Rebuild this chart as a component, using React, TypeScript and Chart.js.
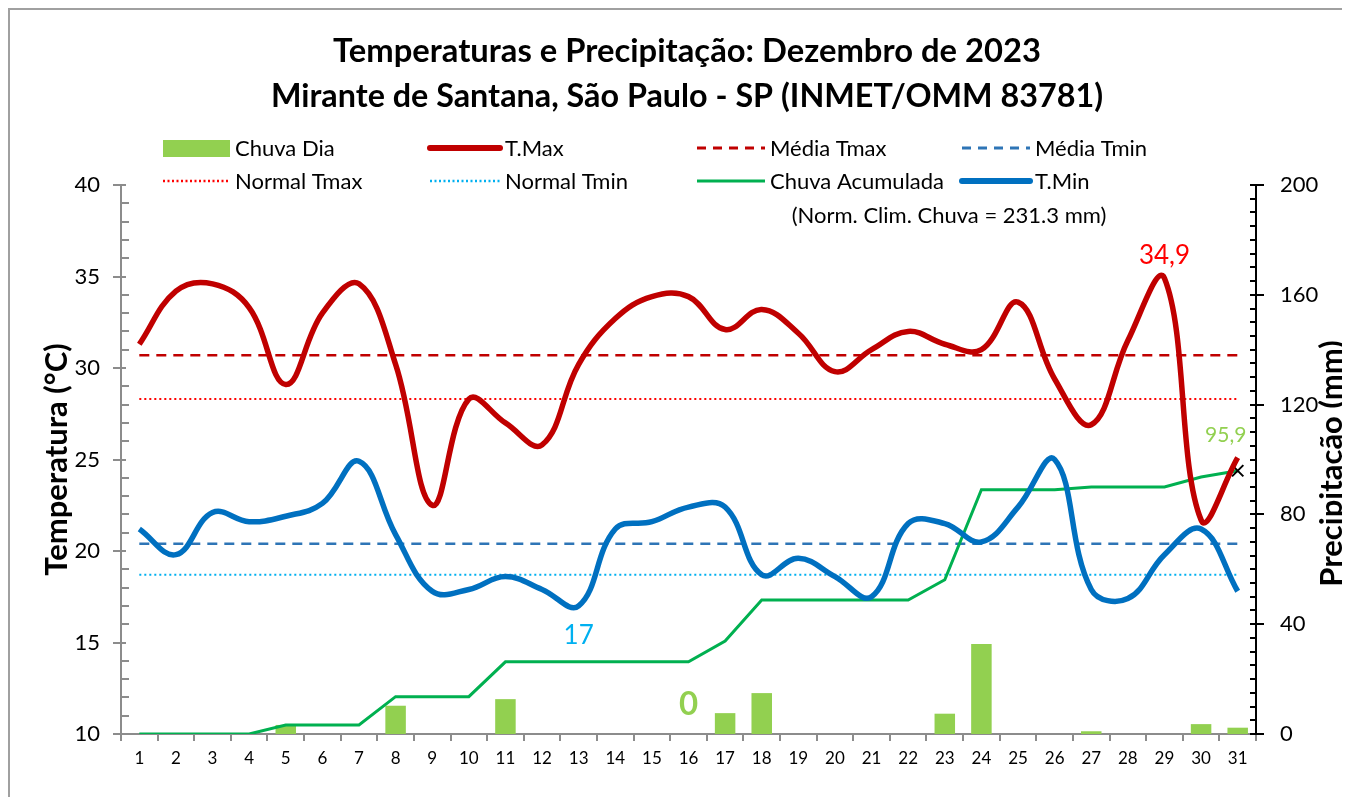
import { useEffect, useRef } from "react";
import { Chart, registerables } from "chart.js";

Chart.register(...registerables);

const DAYS = ["1","2","3","4","5","6","7","8","9","10","11","12","13","14","15","16","17","18","19","20","21","22","23","24","25","26","27","28","29","30","31"];
const T_MAX = [31.3, 34.2, 34.6, 33.3, 29.1, 33.0, 34.6, 30.2, 22.5, 28.3, 27.0, 25.8, 30.2, 32.7, 33.9, 33.9, 32.1, 33.2, 31.9, 29.8, 31.0, 32.0, 31.3, 31.0, 33.6, 29.4, 26.9, 31.5, 34.9, 21.7, 25.1];
const T_MIN = [21.2, 19.8, 22.1, 21.6, 21.9, 22.6, 24.9, 20.9, 17.8, 17.9, 18.6, 17.9, 17.0, 21.2, 21.6, 22.4, 22.4, 18.7, 19.6, 18.6, 17.5, 21.5, 21.5, 20.5, 22.4, 25.0, 17.9, 17.4, 19.8, 21.2, 17.8];
const RAIN_DAY = [0, 0, 0, 0, 3.3, 0, 0, 10.3, 0, 0, 12.7, 0, 0, 0, 0, 0, 7.6, 14.9, 0, 0, 0, 0, 7.4, 32.8, 0, 0, 1.0, 0, 0, 3.6, 2.3];
const RAIN_ACC = [0, 0, 0, 0, 3.3, 3.3, 3.3, 13.6, 13.6, 13.6, 26.3, 26.3, 26.3, 26.3, 26.3, 26.3, 33.9, 48.8, 48.8, 48.8, 48.8, 48.8, 56.2, 89.0, 89.0, 89.0, 90.0, 90.0, 90.0, 93.6, 95.9];
const MEDIA_TMAX = 30.7;
const MEDIA_TMIN = 20.4;
const NORMAL_TMAX = 28.3;
const NORMAL_TMIN = 18.7;
const NORM_CLIM_CHUVA = "231.3";
const TEMP_TICKS = [10, 15, 20, 25, 30, 35, 40];
const RAIN_TICKS = [0, 40, 80, 120, 160, 200];

const TITLE_1 = "Temperaturas e Precipitação: Dezembro de 2023";
const TITLE_2 = "Mirante de Santana, São Paulo - SP (INMET/OMM 83781)";

const FONT = "Lato, 'Open Sans', sans-serif";
const C_TMAX = "#C00000";
const C_TMIN = "#0070C0";
const C_RAIN = "#92D050";
const C_ACC = "#00B050";
const C_NTMAX = "#FF0000";
const C_NTMIN = "#00B0F0";
const C_MTMIN = "#2E75B6";

const refLine = (label: string, value: number, color: string, dash: number[], width: number, order: number) => ({
  type: "line" as const,
  label,
  data: [{ x: DAYS[0], y: value }, { x: DAYS[DAYS.length - 1], y: value }],
  borderColor: color,
  borderWidth: width,
  borderDash: dash,
  pointRadius: 0,
  tension: 0,
  yAxisID: "y",
  order,
});

const decor = {
  id: "decor",
  afterDraw(chart: any) {
    const { ctx, scales } = chart;
    const x = scales.x, y = scales.y, y2 = scales.y2;
    ctx.save();

    // Titles
    ctx.fillStyle = "#000";
    ctx.textAlign = "center";
    ctx.textBaseline = "middle";
    ctx.font = `bold 33px ${FONT}`;
    ctx.fillText(TITLE_1, 677, 41, 708);
    ctx.fillText(TITLE_2, 677, 86, 832);

    // Left axis ticks (major cross, minor inside)
    ctx.strokeStyle = "#8C8C8C";
    ctx.lineWidth = 2;
    const lx = y.right;
    for (let v = 10; v <= 40; v += 1) {
      const py = Math.round(y.getPixelForValue(v));
      ctx.beginPath();
      if (v % 5 === 0) { ctx.moveTo(lx - 8, py); ctx.lineTo(lx + 5, py); }
      else { ctx.moveTo(lx, py); ctx.lineTo(lx + 8, py); }
      ctx.stroke();
    }
    // Right axis ticks
    ctx.strokeStyle = "#000";
    const rx = y2.left;
    for (let v = 0; v <= 200; v += 5) {
      const py = Math.round(y2.getPixelForValue(v));
      ctx.beginPath();
      if (v % 40 === 0) { ctx.moveTo(rx - 6, py); ctx.lineTo(rx + 8, py); }
      else { ctx.moveTo(rx - 6, py); ctx.lineTo(rx, py); }
      ctx.stroke();
    }

    // Axis titles
    ctx.fillStyle = "#000";
    ctx.font = `bold 31px ${FONT}`;
    const cy = (chart.chartArea.top + chart.chartArea.bottom) / 2;
    ctx.save();
    ctx.translate(47, cy);
    ctx.rotate(-Math.PI / 2);
    ctx.fillText("Temperatura (°C)", 0, 0, 250);
    ctx.restore();
    ctx.save();
    ctx.translate(1322, cy + 4);
    ctx.rotate(-Math.PI / 2);
    ctx.fillText("Precipitação (mm)", 0, 0, 262);
    ctx.restore();

    // Legend
    const rows = [138, 171];
    const cols = [[153, 220], [420, 490], [687, 755], [952, 1020]];
    const items: any[] = [
      { r: 0, c: 0, label: "Chuva Dia", kind: "rect", color: C_RAIN },
      { r: 0, c: 1, label: "T.Max", kind: "line", color: C_TMAX, w: 6, dash: [] },
      { r: 0, c: 2, label: "Média Tmax", kind: "line", color: C_TMAX, w: 3, dash: [9, 7] },
      { r: 0, c: 3, label: "Média Tmin", kind: "line", color: C_MTMIN, w: 3, dash: [9, 7] },
      { r: 1, c: 0, label: "Normal Tmax", kind: "line", color: C_NTMAX, w: 2.5, dash: [2, 2.5] },
      { r: 1, c: 1, label: "Normal Tmin", kind: "line", color: C_NTMIN, w: 2.5, dash: [2, 2.5] },
      { r: 1, c: 2, label: "Chuva Acumulada", kind: "line", color: C_ACC, w: 3, dash: [] },
      { r: 1, c: 3, label: "T.Min", kind: "line", color: C_TMIN, w: 6, dash: [] },
    ];
    ctx.textAlign = "left";
    ctx.font = `22px ${FONT}`;
    for (const it of items) {
      const yy = rows[it.r];
      const [x0, x1] = cols[it.c];
      if (it.kind === "rect") {
        ctx.fillStyle = it.color;
        ctx.fillRect(x0, yy - 8, x1 - x0, 17);
      } else {
        ctx.save();
        ctx.strokeStyle = it.color;
        ctx.lineWidth = it.w;
        ctx.lineCap = it.w >= 5 ? "round" : "butt";
        ctx.setLineDash(it.dash);
        ctx.beginPath();
        ctx.moveTo(x0, yy);
        ctx.lineTo(x1, yy);
        ctx.stroke();
        ctx.restore();
      }
      ctx.fillStyle = "#000";
      ctx.fillText(it.label, x1 + 5, yy + 1, 185);
    }
    ctx.font = `22px ${FONT}`;
    ctx.textAlign = "center";
    ctx.fillText(`(Norm. Clim. Chuva = ${NORM_CLIM_CHUVA} mm)`, 939, 206, 342);

    // Data annotations
    const iMax = 28, iMin = 12, iZero = 15, iLast = 30;
    ctx.font = `26px ${FONT}`;
    ctx.fillStyle = C_NTMAX;
    ctx.fillText(String(T_MAX[iMax]).replace(".", ","), x.getPixelForValue(iMax), y.getPixelForValue(T_MAX[iMax]) - 23);
    ctx.fillStyle = C_NTMIN;
    ctx.fillText(String(T_MIN[iMin]), x.getPixelForValue(iMin), y.getPixelForValue(T_MIN[iMin]) + 30);
    ctx.font = `bold 33px ${FONT}`;
    ctx.fillStyle = C_RAIN;
    ctx.fillText(String(RAIN_DAY[iZero]), x.getPixelForValue(iZero), y2.getPixelForValue(0) - 30);
    ctx.font = `21px ${FONT}`;
    ctx.fillText(String(RAIN_ACC[iLast]).replace(".", ","), x.getPixelForValue(iLast) - 12, y2.getPixelForValue(RAIN_ACC[iLast]) - 36);

    ctx.restore();
  },
};

export default function App() {
  const ref = useRef<HTMLCanvasElement>(null);
  useEffect(() => {
    const chart = new Chart(ref.current!, {
      type: "bar",
      data: {
        labels: DAYS,
        datasets: [
          {
            type: "line",
            label: "T.Max",
            data: T_MAX,
            borderColor: C_TMAX,
            borderWidth: 5.5,
            tension: 0.4,
            pointRadius: 0,
            yAxisID: "y",
            order: 1,
          },
          {
            type: "line",
            label: "T.Min",
            data: T_MIN,
            borderColor: C_TMIN,
            borderWidth: 5.5,
            tension: 0.4,
            pointRadius: 0,
            yAxisID: "y",
            order: 2,
          },
          {
            type: "line",
            label: "Chuva Acumulada",
            data: RAIN_ACC,
            borderColor: C_ACC,
            borderWidth: 3,
            tension: 0,
            pointRadius: (c: any) => (c.dataIndex === DAYS.length - 1 ? 8 : 0),
            pointStyle: "crossRot",
            pointBorderColor: "#000",
            pointBorderWidth: 2,
            yAxisID: "y2",
            order: 3,
          },
          refLine("Média Tmax", MEDIA_TMAX, C_TMAX, [10, 7], 2.5, 4),
          refLine("Média Tmin", MEDIA_TMIN, C_MTMIN, [10, 7], 2.5, 5),
          refLine("Normal Tmax", NORMAL_TMAX, C_NTMAX, [2, 3], 2, 6),
          refLine("Normal Tmin", NORMAL_TMIN, C_NTMIN, [2, 3], 2, 7),
          {
            type: "bar",
            label: "Chuva Dia",
            data: RAIN_DAY,
            backgroundColor: C_RAIN,
            barPercentage: 1,
            categoryPercentage: 0.56,
            yAxisID: "y2",
            order: 10,
          },
        ] as any,
      },
      options: {
        responsive: false,
        animation: false,
        layout: { padding: { top: 175, left: 0, right: 0, bottom: 0 } },
        plugins: { legend: { display: false }, title: { display: false }, tooltip: { enabled: false } },
        scales: {
          x: {
            type: "category",
            offset: true,
            grid: { display: true, drawOnChartArea: false, offset: true, drawTicks: true, tickLength: 7, color: "#8C8C8C", lineWidth: 2 },
            border: { display: true, color: "#8C8C8C", width: 2 },
            ticks: { color: "#000", font: { family: FONT, size: 17 }, padding: 7, autoSkip: false, maxRotation: 0 },
            afterFit: (s: any) => { s.height = 63; },
          },
          y: {
            position: "left",
            min: 10,
            max: 40,
            afterBuildTicks: (s: any) => { s.ticks = TEMP_TICKS.map((v) => ({ value: v })); },
            grid: { display: false, drawTicks: false },
            border: { display: true, color: "#8C8C8C", width: 2 },
            ticks: { color: "#000", font: { family: FONT, size: 22 }, padding: 21 },
            afterFit: (s: any) => { s.width = 111; },
          },
          y2: {
            position: "right",
            min: 0,
            max: 200,
            afterBuildTicks: (s: any) => { s.ticks = RAIN_TICKS.map((v) => ({ value: v })); },
            grid: { display: false, drawTicks: false },
            border: { display: true, color: "#000", width: 2 },
            ticks: { color: "#000", font: { family: FONT, size: 22 }, padding: 24 },
            afterFit: (s: any) => { s.width = 94; },
          },
        },
      } as any,
      plugins: [decor],
    });
    return () => chart.destroy();
  }, []);
  return (
    <div style={{ width: 1340, height: 787, borderLeft: "2px solid #A0A0A0", borderTop: "2px solid #A0A0A0" }}>
      <canvas ref={ref} width={1340} height={787} style={{ display: "block" }} />
    </div>
  );
}
